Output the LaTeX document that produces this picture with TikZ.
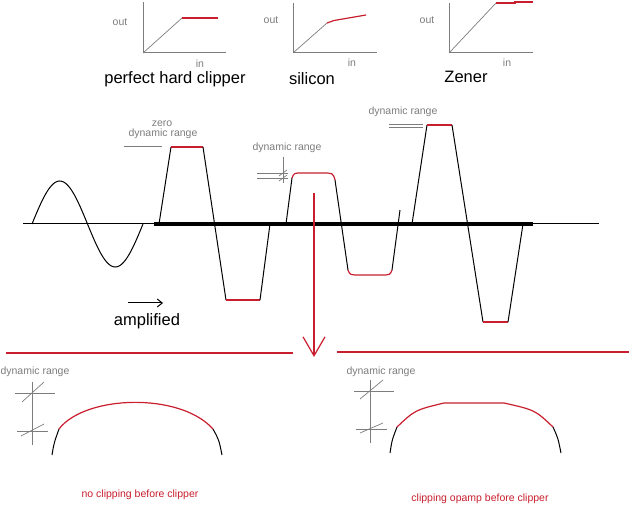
\documentclass[tikz,border=0pt]{standalone}
\usepackage{fontspec}
\setmainfont{Liberation Sans}
\usepackage{tikz}
\usetikzlibrary{arrows.meta}
\definecolor{clipred}{RGB}{200,30,45}
\definecolor{axisgray}{RGB}{125,125,125}

\begin{document}
\begin{tikzpicture}[x=1pt, y=-1pt, line width=1pt,
    every node/.style={font=\fontsize{10.5}{11}\selectfont, text=axisgray, inner sep=0pt},
    bigtext/.style={font=\fontsize{16.5}{18}\selectfont, text=black},
    redtext/.style={font=\fontsize{10.5}{11}\selectfont, text=clipred},
    graxis/.style={draw=axisgray, line width=1pt},
    grthin/.style={draw=axisgray, line width=0.7pt},
    redseg/.style={draw=clipred, line width=1.2pt},
    wave/.style={draw=black, line width=1pt}]
      \useasboundingbox (0,0) rectangle (629,526);

      % transfer curves
      \coordinate (o1) at (143,53);
      \coordinate (t1) at (143,2);
      \coordinate (x1) at (226,53);
      \coordinate (k1) at (182,18);
      \coordinate (e1) at (218,18);

      \draw[graxis] (t1) -- (o1) -- (x1);
      \draw[grthin] (o1) -- (k1);
      \draw[redseg] (k1) -- (e1);

      \node (out1) at (120,22) {out};
      \node (in1) at (200,64) {in};
      \node[bigtext] (hard) at (175,79) {perfect hard clipper};

      \coordinate (o2) at (293,53);
      \coordinate (t2) at (293,3);
      \coordinate (x2) at (377,53);
      \coordinate (k2) at (327,23);
      \coordinate (e2) at (366,15);

      \draw[graxis] (t2) -- (o2) -- (x2);
      \draw[grthin] (o2) -- (k2);
      \draw[redseg] (k2) .. controls (330,21.3) .. (334,20.5) -- (e2);

      \node (out2) at (271,20) {out};
      \node (in2) at (352,63) {in};
      \node[bigtext] (silicon) at (312,79) {silicon};

      \coordinate (o3) at (449,53);
      \coordinate (t3) at (449,3);
      \coordinate (x3) at (533,53);
      \coordinate (k3) at (496,3);
      \coordinate (e3) at (533,2);

      \draw[graxis] (t3) -- (o3) -- (x3);
      \draw[grthin] (o3) -- (k3);
      \draw[redseg] (k3) -- (515,3) -- (515,2) -- (e3);

      \node (out3) at (427,20) {out};
      \node (in3) at (507,63) {in};
      \node[bigtext] (zener) at (466,77) {Zener};

      % signal line
      \draw[wave] (23,224) -- (599,224);
      \draw[line width=3.5pt] (154,224) -- (533,224);

      \draw[wave] plot[domain=0:360, samples=73, smooth] ({32+0.30833*\x}, {224-43*sin(\x)});

      % hard clipper
      \draw[wave] (159,224) -- (171,147);
      \draw[redseg] (171,147) -- (203,147);
      \draw[wave] (203,147) -- (226,300);
      \draw[redseg] (226,300) -- (260,300);
      \draw[wave] (260,300) -- (270,224);

      % silicon
      \draw[wave] (286,224) -- (292,178);
      \draw[redseg] (292,178) .. controls (294,173) .. (302,173) -- (322,173)
        .. controls (333,173) .. (335,180);
      \draw[wave] (335,180) -- (348,270);
      \draw[redseg] (348,270) .. controls (350,275) .. (360,275) -- (381,275)
        .. controls (390,275) .. (392,270);
      \draw[wave] (392,270) -- (400,210);

      % zener
      \draw[wave] (412,224) -- (427,125);
      \draw[redseg] (427,125) -- (452,125);
      \draw[wave] (452,125) -- (483,322);
      \draw[redseg] (483,322) -- (508,322);
      \draw[wave] (508,322) -- (523,224);

      % range marks
      \node (zero) at (162,124) {zero};
      \node (zerorange) at (163,134) {dynamic range};
      \draw[grthin] (124,146) -- (162,146);

      \node (sirange) at (287,148) {dynamic range};
      \draw[grthin] (283,157) -- (283,183);
      \draw[grthin] (257,173) -- (288,173);
      \draw[grthin] (257,178) -- (288,178);
      \draw[grthin] (279,176) -- (287,170);
      \draw[grthin] (279,181) -- (287,175);

      \node (zrange) at (403,112) {dynamic range};
      \draw[grthin] (389,124) -- (423,124);
      \draw[grthin] (389,127) -- (423,127);

      \coordinate (amp0) at (128,303);
      \coordinate (amp1) at (163,303);
      \draw[wave, -{Straight Barb[length=5pt, width=8pt]}] (amp0) -- (amp1);
      \node[bigtext] (amplified) at (147,321) {amplified};

      % zoom to the bottom
      \coordinate (drop0) at (314,193);
      \coordinate (drop1) at (314,357);
      \draw[redseg, -{Straight Barb[length=19pt, width=22pt]}] (drop0) -- (drop1);

      \draw[redseg] (6,353) -- (293,353);
      \draw[redseg] (337,352) -- (629,352);

      % no clipping
      \node (lrange) at (35,372) {dynamic range};
      \draw[grthin] (32,382) -- (32,445);
      \draw[grthin] (15,393) -- (55,393);
      \draw[grthin] (17,431) -- (48,431);
      \draw[grthin] (22,402) -- (44,382);
      \draw[grthin] (21,436) -- (44,424);

      \draw[wave] (52,455) .. controls (54,443) .. (59,429);
      \draw[redseg] (59,429) .. controls (85,395) and (180,392) .. (213,429);
      \draw[wave] (213,429) .. controls (219,440) .. (222,455);
      \node[redtext] (noclip) at (140,495) {no clipping before clipper};

      % opamp clipping
      \node (rrange) at (381,372) {dynamic range};
      \draw[grthin] (370,380) -- (370,443);
      \draw[grthin] (354,391) -- (394,391);
      \draw[grthin] (356,429) -- (387,429);
      \draw[grthin] (360,399) -- (383,380);
      \draw[grthin] (360,433) -- (383,423);

      \draw[wave] (390,453) .. controls (392,440) .. (397,427);
      \draw[redseg] (397,427) .. controls (415,410) .. (444,403) -- (504,403)
        .. controls (535,410) .. (553,427);
      \draw[wave] (553,427) .. controls (558,438) .. (561,453);
      \node[redtext] (opclip) at (480,499) {clipping opamp before clipper};
    \end{tikzpicture}
\end{document}
